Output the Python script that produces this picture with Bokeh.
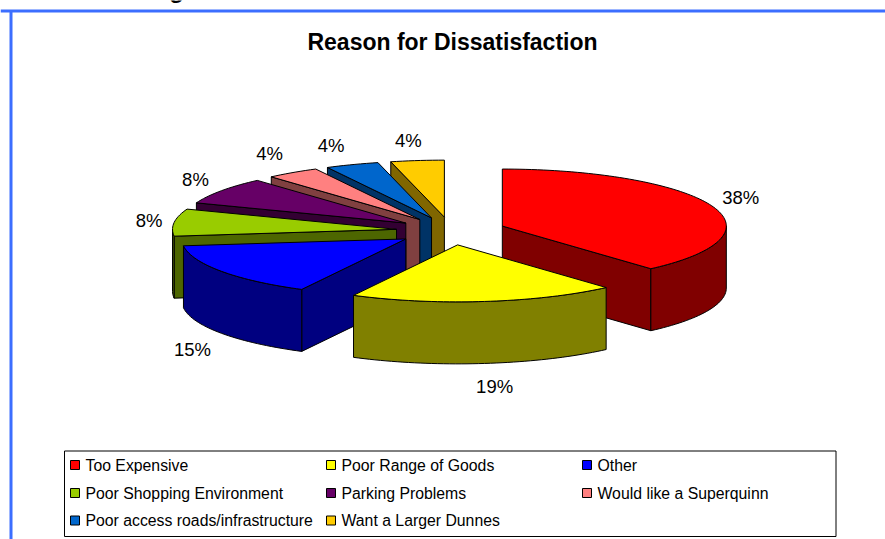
import math

from bokeh.core.properties import value
from bokeh.embed import file_html
from bokeh.models import Range1d
from bokeh.plotting import figure
from bokeh.resources import INLINE

# Chart data: survey responses per reason, in drawing order around the pie.
reasons = [
    "Too Expensive",
    "Poor Range of Goods",
    "Other",
    "Poor Shopping Environment",
    "Parking Problems",
    "Would like a Superquinn",
    "Poor access roads/infrastructure",
    "Want a Larger Dunnes",
]
responses = [10, 5, 4, 2, 2, 1, 1, 1]
top_colors = ["#FF0000", "#FFFF00", "#0000FF", "#99CC00", "#660066", "#FF8080", "#0066CC", "#FFCC00"]
wall_colors = ["#800000", "#808000", "#000080", "#4D6600", "#330033", "#804040", "#003366", "#806600"]

title = "Reason for Dissatisfaction"

# Page geometry, in pixels.
W, H = 885, 539
FONT = value("Liberation Sans")

# Projected pie geometry.
CX, CY = 450.5, 230.5
RX, RY = 224.0, 57.0
DEPTH = 62.0
EXPLODE = 0.245
ARC_STEP = 1.5

# Percent labels sit at these offsets from each exploded slice's rim midpoint.
LABEL_OFFSET = [(29, -8), (10, 85), (-29, 78), (-25, -2), (-26, -11), (-23, -19), (-21, -19), (-9, -20)]

p = figure(
    width=W, height=H, output_backend="svg", toolbar_location=None,
    x_range=Range1d(0, W), y_range=Range1d(H, 0),
    x_axis_type=None, y_axis_type=None, min_border=0,
    outline_line_color=None, background_fill_color="white", border_fill_color="white",
)
p.xgrid.visible = False
p.ygrid.visible = False

# Slide frame: only the top and left edges are in view.
p.segment(x0=[0, 10.5], y0=[10.5, 10.5], x1=[W, 10.5], y1=[10.5, H], line_color="#3C6EFF", line_width=3)

# Tail of a heading line cropped by the top of the page.
p.text(x=[176], y=[-11], text=["g"], text_font=FONT, text_font_style="bold", text_font_size="24px",
       text_align="center", text_baseline="alphabetic", text_color="black")

p.text(x=[452], y=[41], text=[title], text_font=FONT, text_font_style="bold", text_font_size="23px",
       text_align="center", text_baseline="middle", text_color="black")

total = sum(responses)
shares = [100 * r / total for r in responses]
labels = [f"{round(s)}%" for s in shares]

starts, ends = [], []
running = 0.0
for s in shares:
    starts.append(running * 3.6)
    running += s
    ends.append(running * 3.6)


def rim(ax, ay, deg, drop=0.0):
    t = math.radians(deg)
    return ax + RX * math.sin(t), ay - RY * math.cos(t) + drop


def arc_points(ax, ay, a0, a1, drop=0.0):
    n = max(2, int(abs(a1 - a0) / ARC_STEP) + 1)
    return [rim(ax, ay, a0 + (a1 - a0) * i / (n - 1), drop) for i in range(n)]


def polygon(points, fill):
    p.patch([q[0] for q in points], [q[1] for q in points], fill_color=fill,
            line_color="black", line_width=1, line_join="round")


apexes = []
for a0, a1 in zip(starts, ends):
    mid = math.radians((a0 + a1) / 2)
    apexes.append((CX + EXPLODE * RX * math.sin(mid), CY - EXPLODE * RY * math.cos(mid)))

# Painter's order: the back slices first, then the left, the large right slice and the front.
order = [7, 6, 5, 4, 3, 2, 0, 1]
for i in order:
    ax, ay = apexes[i]
    a0, a1 = starts[i], ends[i]
    wall = wall_colors[i]

    # Radial wall that faces the viewer.
    for deg, shown in ((a0, 180 < a0 < 360), (a1, 0 < a1 < 180)):
        if shown:
            rx_, ry_ = rim(ax, ay, deg)
            polygon([(ax, ay), (rx_, ry_), (rx_, ry_ + DEPTH), (ax, ay + DEPTH)], wall)

    # Outer wall for the part of the rim on the near side.
    low, high = max(a0, 90.0), min(a1, 270.0)
    if low < high:
        polygon(arc_points(ax, ay, low, high) + arc_points(ax, ay, high, low, DEPTH), wall)

    # Top face.
    polygon([(ax, ay)] + arc_points(ax, ay, a0, a1), top_colors[i])

# Percent labels.
label_x, label_y = [], []
for i, (a0, a1) in enumerate(zip(starts, ends)):
    rx_, ry_ = rim(*apexes[i], (a0 + a1) / 2)
    label_x.append(rx_ + LABEL_OFFSET[i][0])
    label_y.append(ry_ + LABEL_OFFSET[i][1])
p.text(x=label_x, y=label_y, text=labels, text_font=FONT, text_font_size="18.5px",
       text_align="center", text_baseline="middle", text_color="black")

# Legend box with three columns of entries.
LEG_LEFT, LEG_TOP, LEG_RIGHT, LEG_BOTTOM = 64, 450.5, 835.5, 536
COLUMN_X = [70, 326, 582]
ROW_Y = [464.5, 492.5, 520]
p.quad(left=[LEG_LEFT], right=[LEG_RIGHT], top=[LEG_TOP], bottom=[LEG_BOTTOM],
       fill_color="white", line_color="black", line_width=1)
swatch_x, swatch_y, text_x, text_y = [], [], [], []
for i in range(len(reasons)):
    row, col = divmod(i, 3)
    swatch_x.append(COLUMN_X[col] + 4.5)
    swatch_y.append(ROW_Y[row])
    text_x.append(COLUMN_X[col] + 15)
    text_y.append(ROW_Y[row])
p.rect(x=swatch_x, y=swatch_y, width=9, height=9, fill_color=top_colors, line_color="black", line_width=1)
p.text(x=text_x, y=text_y, text=reasons, text_font=FONT, text_font_size="15.8px",
       text_align="left", text_baseline="middle", text_color="black")

open("out.html", "w").write(file_html(p, INLINE))
